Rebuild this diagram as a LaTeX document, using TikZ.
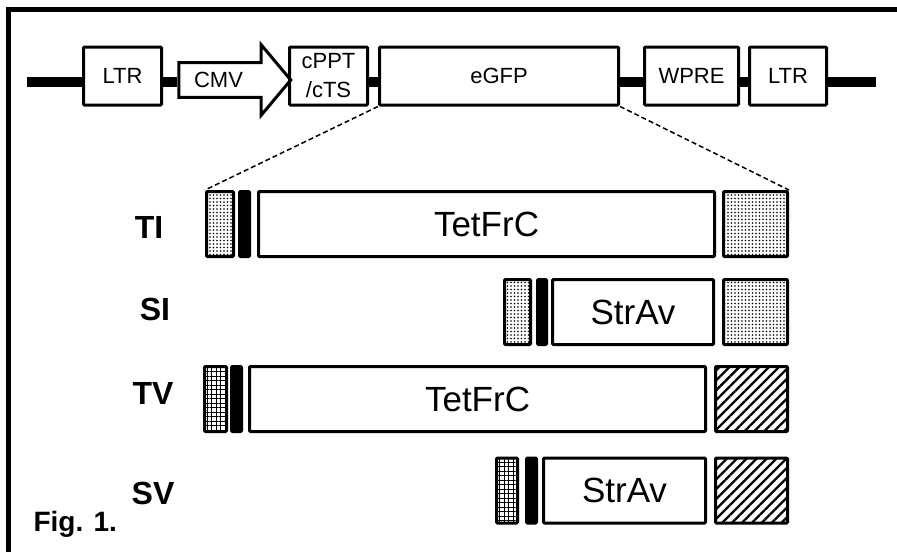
\documentclass[tikz,border=0pt]{standalone}
\usepackage{fontspec}
\setmainfont{Liberation Sans}
\usetikzlibrary{shapes.arrows,patterns.meta}

\begin{document}
\begin{tikzpicture}[x=1pt, y=-1pt,
	part/.style={draw, line width=3pt, rounded corners=1pt, inner sep=0pt},
	top/.style={part, minimum height=58pt, font=\fontsize{22}{29}\selectfont},
	row/.style={part, minimum height=65pt, font=\fontsize{35}{35}\selectfont},
	dotfill/.style={pattern={Dots[radius=0.8pt, distance=3.5pt]}},
	meshfill/.style={pattern={Hatch[distance=4.5pt, line width=1pt]}},
	hatchfill/.style={pattern={Lines[angle=45, distance=7pt, line width=2.3pt]}},
	bb/.style={line width=10pt},
	zoomline/.style={line width=1.5pt, dash pattern=on 5pt off 3pt},
	tag/.style={font=\bfseries\fontsize{32}{32}\selectfont}]
	\useasboundingbox (0,0) rectangle (897,552);
	\draw[line width=5pt] (8.5,552) -- (8.5,9.5) -- (897,9.5);

	% vector
	\node[top, minimum width=78pt] (ltrA) at (122.5,76) {LTR};
	\node[single arrow, draw, line width=3pt, inner xsep=0pt, inner ysep=8pt, minimum height=112pt,
		single arrow head extend=18pt, single arrow tip angle=100, font=\fontsize{22}{29}\selectfont]
		(cmv) at (227.5,80) {CMV\kern18pt};
	\node[top, minimum width=78pt, align=center] (cppt) at (328.5,76) {cPPT\\/cTS};
	\node[top, minimum width=239pt] (egfp) at (499,76) {eGFP};
	\node[top, minimum width=94pt] (wpre) at (691.5,76) {WPRE};
	\node[top, minimum width=77pt] (ltrB) at (788,76) {LTR};
	\coordinate (bbL) at (27,82);
	\coordinate (bbR) at (876,82);
	\draw[bb] (bbL) -- (ltrA.west |- bbL);
	\foreach \a/\b in {ltrA/cmv, cppt/egfp, egfp/wpre, wpre/ltrB}
		\draw[bb] (\a.east |- bbL) -- (\b.west |- bbL);
	\draw[bb] (ltrB.east |- bbR) -- (bbR);

	% inserts
	\node[row, dotfill, minimum width=27pt] (tiL) at (220,224) {};
	\node[row, fill=black, minimum width=10pt] (tiB) at (244.5,224) {};
	\node[row, minimum width=456pt] (tiM) at (486.5,224) {TetFrC};
	\node[row, dotfill, minimum width=64pt] (tiR) at (755.5,224) {};

	\node[row, dotfill, minimum width=26pt] (siL) at (517.5,312) {};
	\node[row, fill=black, minimum width=9pt] (siB) at (542,312) {};
	\node[row, minimum width=161pt] (siM) at (633,312) {StrAv};
	\node[row, dotfill, minimum width=64pt] (siR) at (755.5,312) {};

	\node[row, meshfill, minimum width=22pt] (tvL) at (215.5,399) {};
	\node[row, fill=black, minimum width=10pt] (tvB) at (236.5,399) {};
	\node[row, minimum width=456pt] (tvM) at (477.5,399) {TetFrC};
	\node[row, hatchfill, minimum width=72pt] (tvR) at (751.5,399) {};

	\node[row, meshfill, minimum width=21pt] (svL) at (507,490.5) {};
	\node[row, fill=black, minimum width=10pt] (svB) at (531.5,490.5) {};
	\node[row, minimum width=162pt] (svM) at (624.5,490.5) {StrAv};
	\node[row, hatchfill, minimum width=72pt] (svR) at (751.5,490.5) {};

	\draw[zoomline] (egfp.south west) -- (tiL.north west);
	\draw[zoomline] (egfp.south east) -- (tiR.north east);

	% labels
	\node[tag] (ti) at (149,227) {TI};
	\node[tag] (si) at (155,309) {SI};
	\node[tag] (tv) at (153,393) {TV};
	\node[tag] (sv) at (153,493) {SV};
	\node[tag, font=\bfseries\fontsize{28}{28}\selectfont, anchor=west] (fig) at (30,524) {Fig. 1.};
\end{tikzpicture}
\end{document}
